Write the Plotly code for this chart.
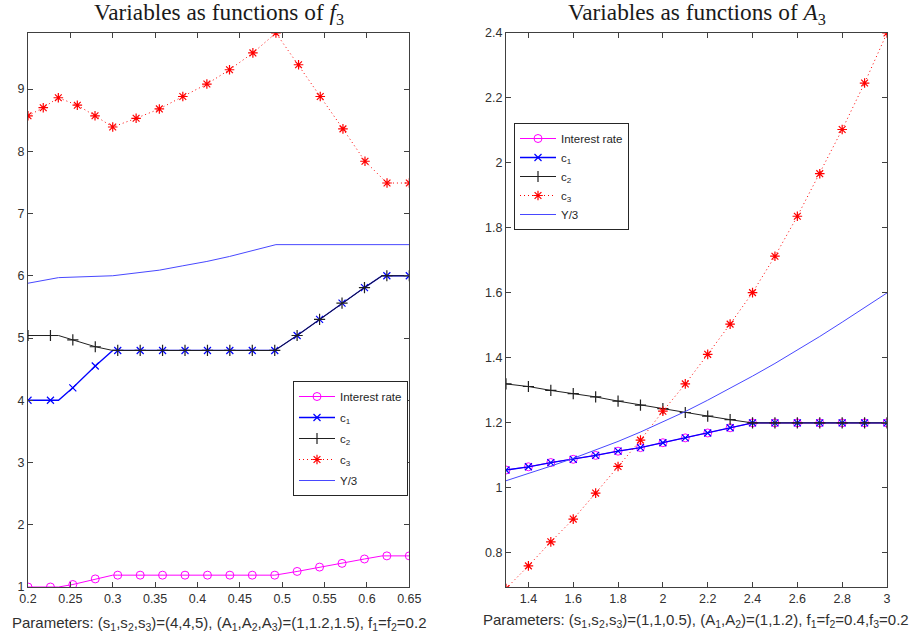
import plotly.graph_objects as go

# ---------------- Left panel: variables as functions of f3 ----------------
f3_marks = [0.2, 0.2265, 0.2529, 0.2794, 0.3059, 0.3324, 0.3588, 0.3853, 0.4118,
            0.4382, 0.4647, 0.4912, 0.5176, 0.5441, 0.5706, 0.5971, 0.6235, 0.65]
rate_left = [1.0, 1.0, 1.04, 1.13, 1.19, 1.19, 1.19, 1.19, 1.19,
             1.19, 1.19, 1.19, 1.25, 1.32, 1.38, 1.45, 1.5, 1.5]
c1_left = [4.0, 4.0, 4.2, 4.55, 4.8, 4.8, 4.8, 4.8, 4.8,
           4.8, 4.8, 4.8, 5.04, 5.3, 5.56, 5.81, 6.0, 6.0]
c2_left = [5.04, 5.04, 4.97, 4.86, 4.8, 4.8, 4.8, 4.8, 4.8,
           4.8, 4.8, 4.8, 5.04, 5.3, 5.56, 5.81, 6.0, 6.0]

# unmarked break points of the lines
f3_kinks = [0.236, 0.300, 0.618]
rate_kinks = [1.0, 1.19, 1.5]
c1_kinks = [4.0, 4.8, 6.0]
c2_kinks = [5.04, 4.8, 6.0]

f3_c3 = [0.2, 0.218, 0.2358, 0.2582, 0.2791, 0.300, 0.3276, 0.355, 0.3827, 0.4111,
         0.4378, 0.4654, 0.4926, 0.5193, 0.5449, 0.5717, 0.5977, 0.6237, 0.65]
c3_left = [8.57, 8.70, 8.86, 8.74, 8.57, 8.39, 8.53, 8.68, 8.88, 9.08,
           9.31, 9.58, 9.9, 9.39, 8.88, 8.36, 7.84, 7.49, 7.49]

f3_y3 = [0.2, 0.236, 0.300, 0.3276, 0.355, 0.3827, 0.4111, 0.4378, 0.4654, 0.4926, 0.65]
y3_left = [5.88, 5.97, 6.0, 6.04, 6.09, 6.16, 6.23, 6.31, 6.40, 6.50, 6.50]

# ---------------- Right panel: variables as functions of A3 ----------------
A3 = [1.3, 1.4, 1.5, 1.6, 1.7, 1.8, 1.9, 2.0, 2.1, 2.2, 2.3, 2.4, 2.5, 2.6, 2.7, 2.8, 2.9, 3.0]
rate_right = [1.055, 1.065, 1.078, 1.088, 1.100, 1.113, 1.124, 1.139, 1.154, 1.169, 1.185,
              1.2, 1.2, 1.2, 1.2, 1.2, 1.2, 1.2]
c1_right = [1.055, 1.065, 1.078, 1.088, 1.100, 1.113, 1.124, 1.139, 1.154, 1.169, 1.185,
            1.2, 1.2, 1.2, 1.2, 1.2, 1.2, 1.2]
c2_right = [1.320, 1.312, 1.300, 1.290, 1.280, 1.267, 1.255, 1.244, 1.232, 1.221, 1.210,
            1.2, 1.2, 1.2, 1.2, 1.2, 1.2, 1.2]
c3_right = [0.69, 0.76, 0.834, 0.904, 0.984, 1.066, 1.147, 1.236, 1.320, 1.411, 1.504,
            1.601, 1.713, 1.836, 1.967, 2.103, 2.246, 2.4]
y3_right = [1.022, 1.044, 1.067, 1.091, 1.116, 1.143, 1.172, 1.203, 1.235, 1.270, 1.306,
            1.344, 1.383, 1.424, 1.466, 1.510, 1.555, 1.600]

series_names = ["Interest rate", "c<sub>1</sub>", "c<sub>2</sub>", "c<sub>3</sub>", "Y/3"]

MAG, BLUE, BLACK, RED = "#FF00FF", "#0000FF", "#202020", "#FF0000"
styles = [
    dict(line=dict(color=MAG, width=1), marker=dict(symbol="circle-open", size=8, color=MAG, line=dict(color=MAG, width=1))),
    dict(line=dict(color=BLUE, width=1.3), marker=dict(symbol="x-thin-open", size=7, color=BLUE, line=dict(color=BLUE, width=1.2))),
    dict(line=dict(color=BLACK, width=1), marker=dict(symbol="cross-thin-open", size=8, color=BLACK, line=dict(color=BLACK, width=1.2))),
    dict(line=dict(color=RED, width=1, dash="1px,3px"), marker=dict(symbol="asterisk-open", size=8, color=RED, line=dict(color=RED, width=1.2))),
    dict(line=dict(color="#4848FF", width=1), marker=None),
]


def merged(xs, ys, kx, ky):
    pts = sorted(zip(list(xs) + list(kx), list(ys) + list(ky)))
    return [p[0] for p in pts], [p[1] for p in pts]


fig = go.Figure()


def add_series(i, xl, yl, xm, ym, xa, ya, legend):
    st = styles[i]
    fig.add_trace(go.Scatter(x=xl, y=yl, mode="lines", line=st["line"], xaxis=xa, yaxis=ya,
                             showlegend=False, hoverinfo="skip"))
    if st["marker"] is not None and xm is not None:
        fig.add_trace(go.Scatter(x=xm, y=ym, mode="markers", marker=st["marker"], xaxis=xa, yaxis=ya,
                                 showlegend=False, hoverinfo="skip"))
    # legend entry
    mode = "lines+markers" if st["marker"] is not None else "lines"
    kw = dict(marker=st["marker"]) if st["marker"] is not None else {}
    fig.add_trace(go.Scatter(x=[None], y=[None], mode=mode, line=st["line"], name=series_names[i],
                             xaxis=xa, yaxis=ya, legend=legend, legendgroup=legend + str(i), **kw))


# left
xl, yl = merged(f3_marks, rate_left, f3_kinks, rate_kinks)
add_series(0, xl, yl, f3_marks, rate_left, "x", "y", "legend")
xl, yl = merged(f3_marks, c1_left, f3_kinks, c1_kinks)
add_series(1, xl, yl, f3_marks, c1_left, "x", "y", "legend")
xl, yl = merged(f3_marks, c2_left, f3_kinks, c2_kinks)
add_series(2, xl, yl, f3_marks, c2_left, "x", "y", "legend")
add_series(3, f3_c3, c3_left, f3_c3, c3_left, "x", "y", "legend")
add_series(4, f3_y3, y3_left, None, None, "x", "y", "legend")

# right
add_series(0, A3, rate_right, A3, rate_right, "x2", "y2", "legend2")
add_series(1, A3, c1_right, A3, c1_right, "x2", "y2", "legend2")
add_series(2, A3, c2_right, A3, c2_right, "x2", "y2", "legend2")
add_series(3, A3, c3_right, A3, c3_right, "x2", "y2", "legend2")
add_series(4, A3, y3_right, None, None, "x2", "y2", "legend2")

W, H = 914, 640
AX = "#404040"
TICKF = dict(family="Liberation Sans, Arial, sans-serif", size=12.5, color="#303030")
axis_common = dict(showgrid=False, zeroline=False, showline=True, linecolor=AX, linewidth=1,
                   mirror="ticks", ticks="inside", ticklen=5, tickcolor=AX, tickwidth=1,
                   tickfont=TICKF, automargin=False)

legend_common = dict(bgcolor="white", bordercolor="#262626", borderwidth=1,
                     font=dict(family="Liberation Sans, Arial, sans-serif", size=11.5, color="#262626"),
                     traceorder="grouped", itemwidth=36)

fig.update_layout(
    width=W, height=H,
    margin=dict(l=0, r=0, t=0, b=0, autoexpand=False),
    paper_bgcolor="white", plot_bgcolor="white",
    xaxis=dict(domain=[28 / W, 409.3 / W], range=[0.2, 0.65], dtick=0.05, tick0=0.2,
               anchor="y", **axis_common),
    yaxis=dict(domain=[(H - 587) / H, (H - 33) / H], range=[1, 9.9], dtick=1, tick0=0,
               anchor="x", **axis_common),
    xaxis2=dict(domain=[506 / W, 887 / W], range=[1.3, 3.0], dtick=0.2, tick0=0,
                anchor="y2", **axis_common),
    yaxis2=dict(domain=[(H - 587) / H, (H - 33) / H], range=[0.695, 2.4], dtick=0.2, tick0=0,
                anchor="x2", **axis_common),
    legend=dict(x=408 / W, xanchor="right", y=(H - 381) / H, yanchor="top",
                tracegroupgap=2, **legend_common),
    legend2=dict(x=514 / W, xanchor="left", y=(H - 123) / H, yanchor="top",
                 tracegroupgap=0, **legend_common),
    showlegend=True,
)

TITLEF = dict(family="Liberation Serif, Times New Roman, serif", size=23.3, color="#1a1a1a")
CAPF = dict(family="Liberation Sans, Arial, sans-serif", size=15, color="#303030")
fig.add_annotation(text="Variables as functions of <i>f</i><sub>3</sub>", x=(28 + 409.3) / 2 / W,
                   y=(H - 14) / H, xref="paper", yref="paper", showarrow=False, font=TITLEF,
                   xanchor="center", yanchor="middle")
fig.add_annotation(text="Variables as functions of <i>A</i><sub>3</sub>", x=(506 + 887) / 2 / W,
                   y=(H - 14) / H, xref="paper", yref="paper", showarrow=False, font=TITLEF,
                   xanchor="center", yanchor="middle")
fig.add_annotation(text="Parameters: (s<sub>1</sub>,s<sub>2</sub>,s<sub>3</sub>)=(4,4,5), "
                        "(A<sub>1</sub>,A<sub>2</sub>,A<sub>3</sub>)=(1,1.2,1.5), f<sub>1</sub>=f<sub>2</sub>=0.2",
                   x=218.5 / W, y=(H - 623) / H, xref="paper", yref="paper", showarrow=False,
                   font=CAPF, xanchor="center", yanchor="middle")
fig.add_annotation(text="Parameters: (s<sub>1</sub>,s<sub>2</sub>,s<sub>3</sub>)=(1,1,0.5), "
                        "(A<sub>1</sub>,A<sub>2</sub>)=(1,1.2), f<sub>1</sub>=f<sub>2</sub>=0.4,f<sub>3</sub>=0.2",
                   x=696 / W, y=(H - 620) / H, xref="paper", yref="paper", showarrow=False,
                   font=CAPF, xanchor="center", yanchor="middle")

fig.write_html("out.html", config={"displayModeBar": False},
               post_script="document.body.style.margin='0px';document.body.style.overflow='hidden';")
